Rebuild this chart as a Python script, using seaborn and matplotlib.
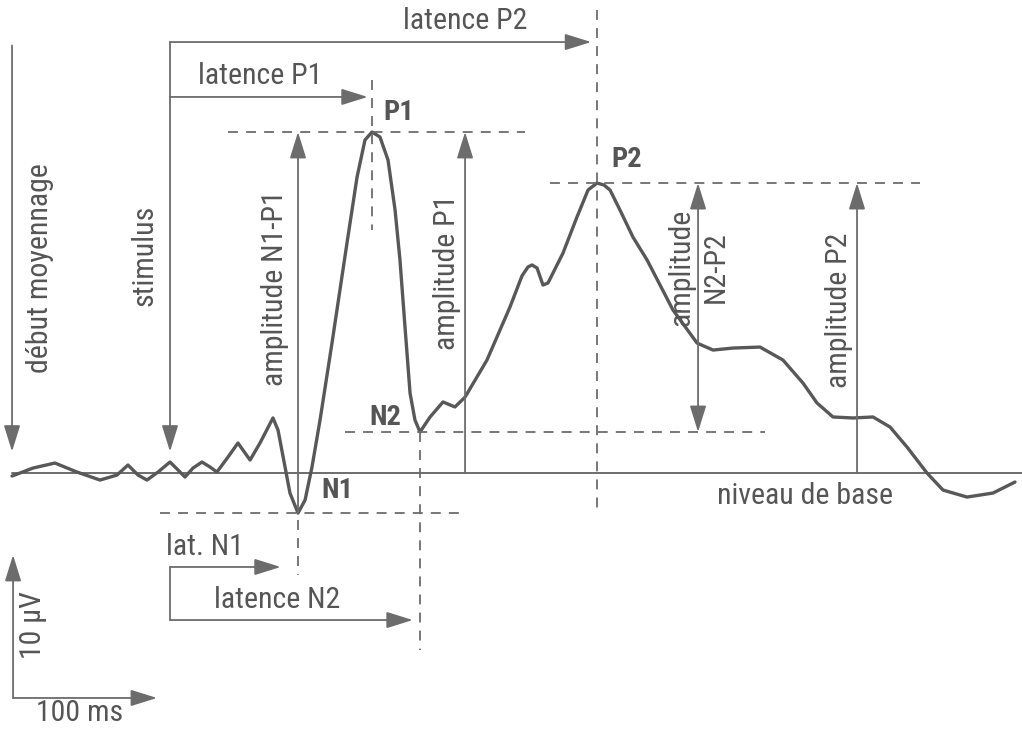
import numpy as np
import pandas as pd
import seaborn as sns
import matplotlib.pyplot as plt
from matplotlib import font_manager

# Evoked potential (ms after stimulus, µV above baseline)
time_ms = [-109.7, -95.1, -79.9, -64.6, -48.6, -36.8, -29.2, -22.2, -16.0, -8.3,
           0.0, 5.6, 10.4, 16.0, 22.2, 27.8, 32.6, 40.3, 47.2, 52.1,
           55.6, 62.5, 71.5, 75.0, 79.9, 83.3, 88.9, 93.8, 98.6, 104.2,
           112.5, 122.9, 129.9, 135.4, 140.3, 145.8, 151.4, 156.3, 159.7, 163.2,
           166.7, 170.1, 173.6, 180.6, 189.6, 197.9, 204.9, 220.1, 236.1, 244.4,
           248.6, 251.4, 254.9, 259.0, 262.5, 272.9, 282.6, 290.3, 296.5, 301.4,
           305.6, 312.5, 321.5, 331.3, 349.3, 366.0, 377.1, 391.0, 409.7, 425.7,
           439.6, 449.3, 460.4, 474.3, 488.2, 500.0, 511.8, 525.7, 536.8, 553.5,
           571.5, 586.8]
amp_uv = [-0.21, 0.35, 0.70, 0.07, -0.49, -0.14, 0.56, -0.14, -0.49, 0.07,
          0.77, 0.21, -0.28, 0.35, 0.77, 0.42, 0.07, 1.12, 2.10, 1.40,
          0.91, 2.10, 3.85, 3.01, 0.42, -1.40, -2.80, -1.89, 0.42, 3.71,
          9.09, 16.08, 20.70, 23.29, 23.85, 23.50, 21.89, 18.39, 14.90, 10.21,
          5.59, 3.71, 2.87, 3.92, 4.97, 4.62, 5.31, 7.90, 11.61, 13.78,
          14.41, 14.55, 14.34, 13.15, 13.29, 15.38, 17.90, 19.79, 20.28, 20.14,
          19.79, 18.39, 16.50, 14.90, 11.40, 9.09, 8.60, 8.74, 8.81, 7.90,
          6.29, 4.90, 3.92, 3.85, 3.92, 3.22, 1.82, 0.00, -1.19, -1.68,
          -1.40, -0.63]

# windows (ms) used to pick each component
windows = {"N1": (60, 120, "min"), "P1": (100, 170, "max"),
           "N2": (150, 200, "min"), "P2": (250, 350, "max")}

sns.set_style("white")

# narrow sans if one is around, else plain Liberation Sans
fonts = font_manager.fontManager.ttflist
avail = {f.name for f in fonts}
narrow = [n for n in ("Liberation Sans Narrow", "Arial Narrow", "Roboto Condensed",
                      "Open Sans Condensed") if n in avail]
dejavu_cond = any(f.name == "DejaVu Sans" and "condensed" in str(f.stretch) for f in fonts)
if narrow:
    plt.rcParams["font.family"] = [narrow[0], "DejaVu Sans"]
    FS = 21.5
elif dejavu_cond:
    plt.rcParams["font.family"] = ["DejaVu Sans"]
    plt.rcParams["font.stretch"] = "condensed"
    FS = 18.5
else:
    plt.rcParams["font.family"] = ["Liberation Sans", "DejaVu Sans"]
    FS = 19

df = pd.DataFrame({"t": time_ms, "v": amp_uv})
t = np.array(time_ms)
v = np.array(amp_uv)

peaks = {}
for name, (lo, hi, kind) in windows.items():
    m = (t >= lo) & (t <= hi)
    idx = np.flatnonzero(m)
    i = idx[np.argmin(v[m])] if kind == "min" else idx[np.argmax(v[m])]
    peaks[name] = (t[i], v[i])

N1, P1, N2, P2 = peaks["N1"], peaks["P1"], peaks["N2"], peaks["P2"]

CURVE = "#585858"
LINE = "#6c6c6c"
TXT = "#555555"

fig = plt.figure(figsize=(10.22, 7.29), dpi=100)
ax = fig.add_axes([0, 0, 1, 1])
ax.set_xlim(-118.06, 591.67)
ax.set_ylim(-17.9, 33.08)
ax.axis("off")


def arrow(x0, y0, x1, y1, style="-|>"):
    ax.annotate("", xy=(x1, y1), xytext=(x0, y0),
                arrowprops=dict(arrowstyle=style + ",head_length=0.9,head_width=0.28",
                                color=LINE, lw=1.3, mutation_scale=18,
                                shrinkA=0, shrinkB=0))


def dashed(xs, ys):
    ax.plot(xs, ys, color=LINE, lw=1.3, ls=(0, (5.5, 4.5)))


def label(x, y, s, rot=0, bold=False, ha="center", size=None):
    ax.text(x, y, s, rotation=rot, ha=ha, va="center", color=TXT,
            fontsize=size or FS, fontweight="bold" if bold else "normal")


# baseline
ax.plot([-110, 591.67], [0, 0], color=LINE, lw=1.4)

# waveform
sns.lineplot(data=df, x="t", y="v", ax=ax, color=CURVE, lw=2.4, sort=False,
             solid_joinstyle="round", solid_capstyle="round")

# start of averaging and stimulus
arrow(-109.7, 29.9, -109.7, 1.5)
label(-90.3, 14.3, "début moyennage", rot=90)
arrow(0, 30.14, 0, 1.5)
label(-17.4, 15.2, "stimulus", rot=90)

# latencies P1 / P2
arrow(0, 30.14, P2[0] - 4, 30.14)
label(205, 31.6, "latence P2")
arrow(0, 26.3, P1[0] - 3, 26.3)
label(62.5, 27.8, "latence P1")
dashed([P2[0], P2[0]], [32.4, -2.94])
dashed([P1[0], P1[0]], [27.5, 17.0])

# peak levels
dashed([40.3, 246.5], [P1[1], P1[1]])
dashed([263.9, 520.8], [P2[1], P2[1]])
dashed([121.5, 413.2], [N2[1], N2[1]])
dashed([-6.9, 201.4], [N1[1], N1[1]])
dashed([N2[0], N2[0]], [N2[1], -12.4])
dashed([N1[0], N1[0]], [N1[1] - 0.5, -7.1])

# peak names
label(P1[0] + 8, 25.2, "P1", bold=True, ha="left", size=FS - 1)
label(P2[0] + 10, 21.9, "P2", bold=True, ha="left", size=FS - 1)
label(149.3, 3.85, "N2", bold=True, size=FS - 1)
label(116.0, -1.2, "N1", bold=True, size=FS - 1)

# amplitudes
arrow(N1[0], N1[1], N1[0], P1[1])
label(72.9, 12.9, "amplitude N1-P1", rot=90)
arrow(204.9, 0, 204.9, P1[1])
label(192.4, 14.0, "amplitude P1", rot=90)
arrow(366.7, N2[1], 366.7, P2[1], style="<|-|>")
label(354.9, 14.4, "amplitude", rot=90)
label(379.2, 14.4, "N2-P2", rot=90)
arrow(477.1, 0, 477.1, P2[1])
label(464.6, 11.4, "amplitude P2", rot=90)
label(441.0, -1.6, "niveau de base")

# latencies N1 / N2
ax.plot([0, 0], [-6.57, -10.28], color=LINE, lw=1.3)
arrow(0, -6.57, N1[0] - 12, -6.57)
label(24.3, -5.2, "lat. N1")
arrow(0, -10.28, N2[0] - 5, -10.28)
label(74.3, -8.9, "latence N2")

# scale bars
arrow(-109.0, -15.73, -109.0, -5.73)
arrow(-109.0, -15.73, -9.0, -15.73)
label(-95.1, -10.6, "10 µV", rot=90)
label(-62.5, -16.75, "100 ms")

fig.savefig("out.png", dpi=100, facecolor="white")
